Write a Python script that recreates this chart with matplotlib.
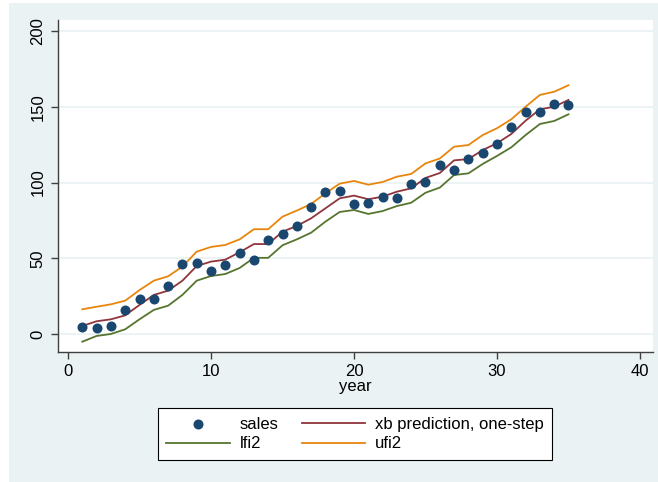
import matplotlib
matplotlib.use("Agg")
import matplotlib.pyplot as plt
from matplotlib.patches import Rectangle

plt.rcParams['font.family'] = ['Liberation Sans', 'DejaVu Sans']

year = list(range(1, 36))
sales = [4.8, 4.2, 5.5, 15.9, 23.3, 23.3, 31.7, 46.0, 46.7, 41.8,
         45.6, 53.7, 48.6, 61.9, 66.0, 71.5, 83.7, 93.8, 94.2, 85.9,
         86.3, 90.3, 89.6, 99.3, 100.5, 111.8, 108.3, 115.7, 119.3, 125.7,
         136.5, 146.8, 146.4, 151.9, 151.3]
xb = [5.3, 8.4, 9.7, 12.3, 19.2, 25.8, 28.6, 35.2, 44.9, 47.8,
      49.1, 54.0, 59.4, 59.4, 67.6, 71.3, 76.4, 83.0, 89.6, 91.4,
      89.0, 90.7, 94.0, 96.2, 103.1, 106.3, 114.7, 115.5, 121.5, 126.0,
      132.1, 140.9, 148.4, 150.1, 154.6]
lfi2 = [-5.1, -1.3, 0.0, 3.1, 9.7, 15.9, 18.7, 25.8, 35.2, 38.3,
        39.6, 43.6, 50.3, 50.3, 58.6, 62.5, 66.9, 74.2, 80.6, 81.9,
        79.3, 81.2, 84.5, 86.7, 93.3, 96.7, 105.0, 106.1, 112.3, 117.6,
        123.3, 131.4, 138.7, 140.7, 145.1]
ufi2 = [16.3, 18.0, 19.6, 22.0, 29.0, 35.2, 38.1, 44.5, 54.4, 57.5,
        58.8, 62.5, 69.2, 69.2, 77.5, 81.5, 85.9, 92.9, 99.3, 101.1,
        98.6, 100.4, 103.9, 105.7, 112.7, 115.9, 123.7, 124.8, 131.4, 135.9,
        141.8, 150.1, 157.9, 160.0, 164.3]

xticks = [0, 10, 20, 30, 40]
yticks = [0, 50, 100, 150, 200]

W, H = 658, 482
fig = plt.figure(figsize=(W / 100, H / 100), dpi=100)
fig.patch.set_facecolor('white')
bgc = '#eaf2f3'
fig.patches.append(Rectangle((9 / W, 0), 1 - 9 / W, 1 - 3 / H,
                             transform=fig.transFigure, facecolor=bgc,
                             edgecolor='none', zorder=-10))

ax = fig.add_axes([58 / W, 1 - 352 / H, (653 - 58) / W, (352 - 20) / H])
ax.set_facecolor('white')

ax.scatter(year, sales, s=52, color='#1a476f', zorder=3, label='sales',
           linewidths=0)
ax.plot(year, xb, color='#90353b', lw=1.3, zorder=2,
        label='xb prediction, one-step')
ax.plot(year, lfi2, color='#55752f', lw=1.3, zorder=2, label='lfi2')
ax.plot(year, ufi2, color='#e8860c', lw=1.3, zorder=2, label='ufi2')

ax.set_xlim(-0.70, 40.91)
ax.set_ylim(-11.9, 207.4)
ax.set_xticks(xticks)
ax.set_yticks(yticks)
ax.grid(axis='y', color=bgc, lw=1.3, zorder=0)
ax.grid(axis='x', visible=False)
ax.set_axisbelow(True)

for s in ['top', 'right']:
    ax.spines[s].set_visible(False)
for s in ['left', 'bottom']:
    ax.spines[s].set_color('#404040')
    ax.spines[s].set_linewidth(1.0)

ax.tick_params(axis='both', colors='#404040', labelcolor='black',
               length=5, width=1.0, labelsize=12)
ax.tick_params(axis='x', pad=4)
ax.tick_params(axis='y', pad=4)
for lab in ax.get_yticklabels():
    lab.set_rotation(90)
    lab.set_va('center')

ax.set_xlabel('year', fontsize=12, labelpad=0)

handles, labels = ax.get_legend_handles_labels()
h = [handles[labels.index('sales')], handles[labels.index('lfi2')],
     handles[labels.index('xb prediction, one-step')],
     handles[labels.index('ufi2')]]
l = ['sales', 'lfi2', 'xb prediction, one-step', 'ufi2']
leg = fig.legend(h, l, ncol=2, loc='center',
                 bbox_to_anchor=(355 / W, 1 - 434 / H),
                 fontsize=12, frameon=True, fancybox=False, shadow=False,
                 edgecolor='black', facecolor='white', framealpha=1,
                 handlelength=3.8, handletextpad=0.6, columnspacing=1.4,
                 borderpad=0.5, labelspacing=0.28, scatterpoints=1)
leg.get_frame().set_linewidth(0.8)

fig.savefig('out.png', dpi=100, facecolor=fig.get_facecolor())
